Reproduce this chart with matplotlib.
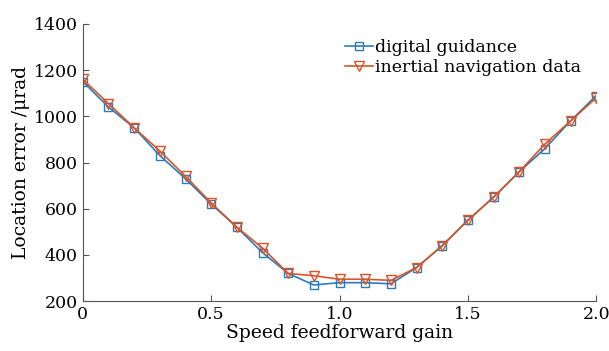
import numpy as np
import matplotlib.pyplot as plt

plt.rcParams['font.family'] = ['DejaVu Serif']

gain = [0.0, 0.1, 0.2, 0.3, 0.4, 0.5, 0.6, 0.7, 0.8, 0.9, 1.0,
        1.1, 1.2, 1.3, 1.4, 1.5, 1.6, 1.7, 1.8, 1.9, 2.0]
digital = [1150, 1040, 950, 830, 730, 620, 520, 410, 320, 270, 280,
           280, 275, 345, 440, 550, 650, 760, 860, 980, 1090]
inertial = [1160, 1055, 950, 850, 740, 625, 520, 430, 320, 310, 295,
            295, 290, 345, 440, 550, 650, 760, 880, 980, 1080]

fig = plt.figure(figsize=(6.09, 3.51), dpi=100)
ax = fig.add_axes([0.136, 0.142, 0.843, 0.79])

ax.plot(gain, digital, color='#2b7bba', marker='s', markersize=5.5,
        markerfacecolor='none', linewidth=1.2, label='digital guidance')
ax.plot(gain, inertial, color='#d9542a', marker='v', markersize=7,
        markerfacecolor='none', linewidth=1.2, label='inertial navigation data')

ax.set_xlim(0, 2.0)
ax.set_ylim(200, 1400)
ax.set_xticks([0, 0.5, 1.0, 1.5, 2.0])
ax.set_xticklabels(['0', '0.5', '1.0', '1.5', '2.0'])
ax.set_yticks([200, 400, 600, 800, 1000, 1200, 1400])

for s in ['top', 'right']:
    ax.spines[s].set_visible(False)
for s in ['left', 'bottom']:
    ax.spines[s].set_color('#555555')
ax.tick_params(direction='in', length=4, labelsize=12.5, color='#555555')

ax.set_xlabel('Speed feedforward gain', fontsize=13.5, labelpad=1)
ax.set_ylabel('Location error /μrad', fontsize=13.5, labelpad=3)

ax.legend(loc='upper right', bbox_to_anchor=(1.0, 1.0), frameon=False,
          fontsize=12.5, handlelength=1.6, handletextpad=0.1, labelspacing=0.15)

fig.savefig('out.png', dpi=100)
